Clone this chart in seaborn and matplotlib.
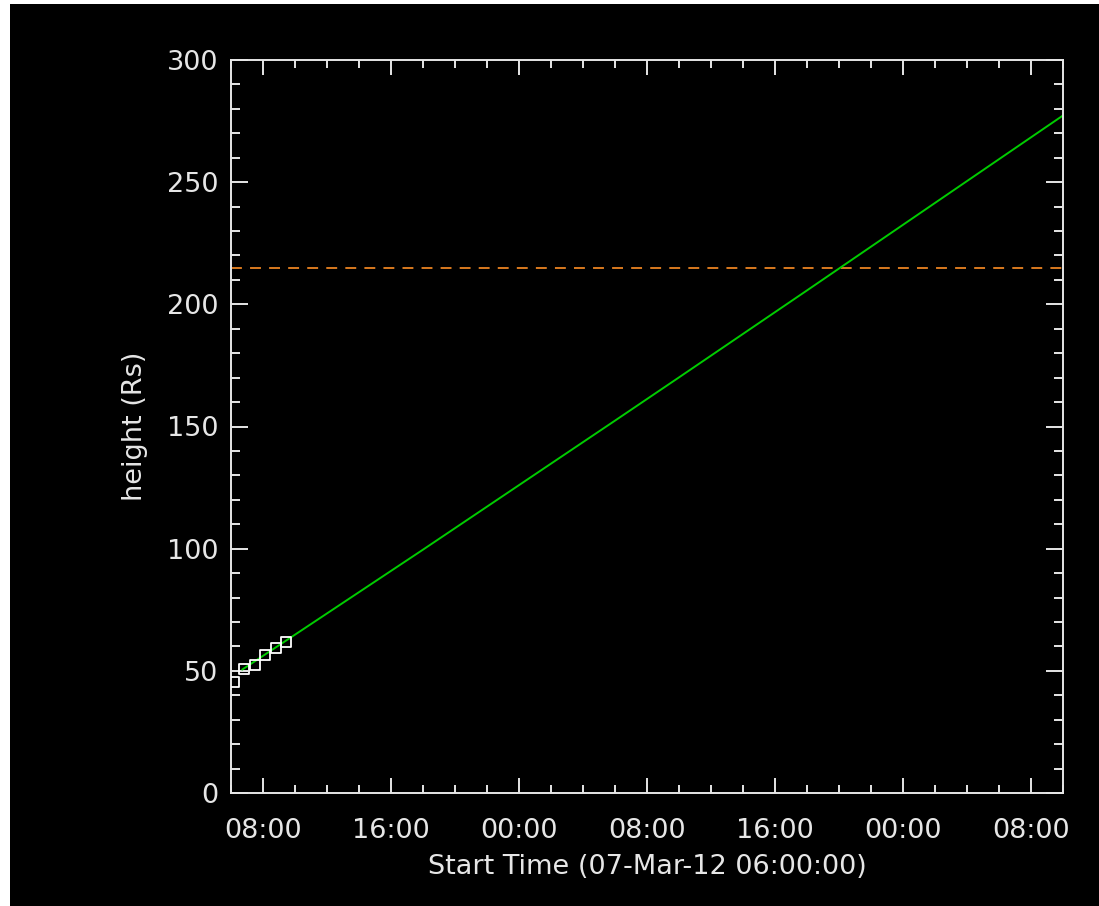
import pandas as pd
import matplotlib.pyplot as plt
import matplotlib.dates as mdates
from matplotlib.patches import Rectangle
from matplotlib.ticker import MultipleLocator
import seaborn as sns

# Estilo
sns.set_theme(style="ticks")
plt.rcParams["font.family"] = ["DejaVu Sans"]

# Dados (horas desde 07-Mar-12 06:00:00)
inicio = pd.Timestamp("2012-03-07 06:00:00")
horas_pontos = [0.19, 0.81, 1.50, 2.12, 2.81, 3.44]
altura_pontos = [45.4, 50.7, 52.3, 56.4, 59.3, 61.7]

horas_ajuste = [0.7, 4, 8, 12, 16, 20, 24, 28, 32, 36, 40, 44, 48, 52]
altura_ajuste = [50.5, 64.8, 82.2, 99.6, 117.2, 134.8, 152.4, 170.1,
                 187.9, 205.7, 223.6, 241.5, 259.4, 277.3]

altura_1ua = 215
horas_limite = [0, 52]

pontos = pd.DataFrame({
    "tempo": [inicio + pd.Timedelta(hours=h) for h in horas_pontos],
    "altura": altura_pontos,
})
ajuste = pd.DataFrame({
    "tempo": [inicio + pd.Timedelta(hours=h) for h in horas_ajuste],
    "altura": altura_ajuste,
})
referencia = pd.DataFrame({
    "tempo": [inicio + pd.Timedelta(hours=h) for h in horas_limite],
    "altura": [altura_1ua, altura_1ua],
})

fg = "#e6e6e6"

fig = plt.figure(figsize=(10.99, 9.06), dpi=100, facecolor="white")
fig.patches.append(Rectangle((10 / 1099, 0), 1, 902 / 906, transform=fig.transFigure,
                             facecolor="black", edgecolor="none", zorder=-1))
ax = fig.add_axes([231 / 1099, 113 / 906, 832 / 1099, 733 / 906])
ax.set_facecolor("black")

sns.lineplot(data=referencia, x="tempo", y="altura", ax=ax, color="#d97a1f",
             linewidth=1.4, linestyle=(0, (5.6, 4.2)))
sns.lineplot(data=ajuste, x="tempo", y="altura", ax=ax, color="#00cc00", linewidth=1.4)
sns.scatterplot(data=pontos, x="tempo", y="altura", ax=ax, marker="s", s=48,
                facecolor="none", edgecolor="white", linewidth=1.3, zorder=3)

ax.set_xlim(inicio, inicio + pd.Timedelta(hours=52))
ax.set_ylim(0, 300)

ax.xaxis.set_major_locator(mdates.HourLocator(byhour=[0, 8, 16]))
ax.xaxis.set_minor_locator(mdates.HourLocator(byhour=range(0, 24, 2)))
ax.xaxis.set_major_formatter(mdates.DateFormatter("%H:%M"))
ax.yaxis.set_major_locator(MultipleLocator(50))
ax.yaxis.set_minor_locator(MultipleLocator(10))

for s in ax.spines.values():
    s.set_color(fg)
    s.set_linewidth(1.4)

ax.tick_params(axis="both", which="both", direction="in", colors=fg,
               top=True, right=True, width=1.4, labelsize=19.5)
ax.tick_params(axis="x", which="major", length=11, pad=18)
ax.tick_params(axis="x", which="minor", length=5.8)
ax.tick_params(axis="y", which="major", length=12, pad=9)
ax.tick_params(axis="y", which="minor", length=6.5)

ax.set_xlabel("Start Time (07-Mar-12 06:00:00)", color=fg, fontsize=19.5, labelpad=7)
ax.set_ylabel("height (Rs)", color=fg, fontsize=19.5, labelpad=14)
ax.grid(False)

fig.savefig("out.png", dpi=100, facecolor=fig.get_facecolor())
